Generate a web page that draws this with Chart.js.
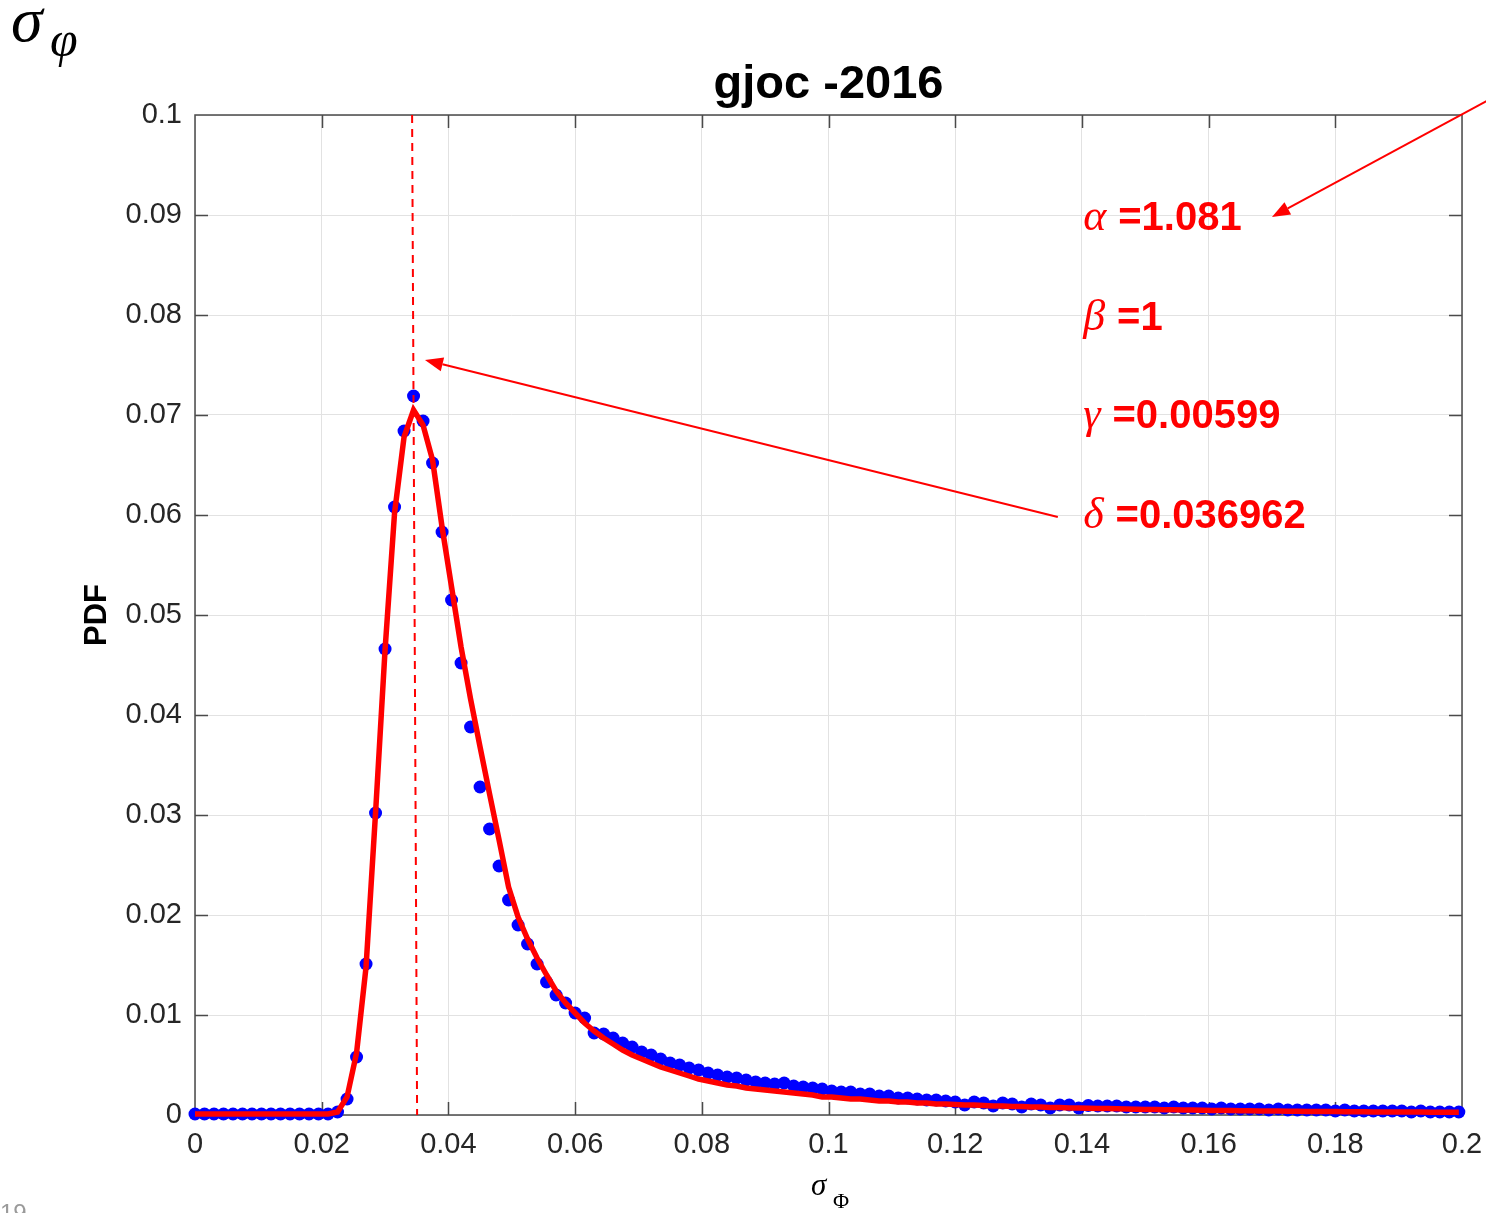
<!DOCTYPE html>
<html>
<head>
<meta charset="utf-8">
<title>gjoc -2016</title>
<script src="https://cdn.jsdelivr.net/npm/chart.js@4.4.1/dist/chart.umd.min.js"></script>
<style>
  html, body { margin: 0; padding: 0; background: #fff; }
  #wrap { position: relative; width: 1486px; height: 1213px; }
</style>
</head>
<body>
<div id="wrap"><canvas id="pdfChart"></canvas></div>
<script>
// sampling grid of sigma_Phi
const sigma = [
  0, 0.0015, 0.003, 0.0045, 0.006, 0.0075, 0.009, 0.0105, 0.012, 0.0135,
  0.015, 0.0165, 0.018, 0.0195, 0.021, 0.0225, 0.024, 0.0255, 0.027, 0.0285,
  0.03, 0.0315, 0.033, 0.0345, 0.036, 0.0375, 0.039, 0.0405, 0.042, 0.0435,
  0.045, 0.0465, 0.048, 0.0495, 0.051, 0.0525, 0.054, 0.0555, 0.057, 0.0585,
  0.06, 0.0615, 0.063, 0.0645, 0.066, 0.0675, 0.069, 0.0705, 0.072, 0.0735,
  0.075, 0.0765, 0.078, 0.0795, 0.081, 0.0825, 0.084, 0.0855, 0.087, 0.0885,
  0.09, 0.0915, 0.093, 0.0945, 0.096, 0.0975, 0.099, 0.1005, 0.102, 0.1035,
  0.105, 0.1065, 0.108, 0.1095, 0.111, 0.1125, 0.114, 0.1155, 0.117, 0.1185,
  0.12, 0.1215, 0.123, 0.1245, 0.126, 0.1275, 0.129, 0.1305, 0.132, 0.1335,
  0.135, 0.1365, 0.138, 0.1395, 0.141, 0.1425, 0.144, 0.1455, 0.147, 0.1485,
  0.15, 0.1515, 0.153, 0.1545, 0.156, 0.1575, 0.159, 0.1605, 0.162, 0.1635,
  0.165, 0.1665, 0.168, 0.1695, 0.171, 0.1725, 0.174, 0.1755, 0.177, 0.1785,
  0.18, 0.1815, 0.183, 0.1845, 0.186, 0.1875, 0.189, 0.1905, 0.192, 0.1935,
  0.195, 0.1965, 0.198, 0.1995
];

// empirical PDF (blue dots)
const pdfEmpirical = [
  0.0001, 0.0001, 0.0001, 0.0001, 0.0001, 0.0001, 0.0001, 0.0001, 0.0001, 0.0001,
  0.0001, 0.0001, 0.0001, 0.0001, 0.0001, 0.0003, 0.0016, 0.0058, 0.0151, 0.0302,
  0.0466, 0.0608, 0.0684, 0.0719, 0.0694, 0.0652, 0.0583, 0.0515, 0.0452, 0.0388,
  0.0328, 0.0286, 0.0249, 0.0215, 0.0190, 0.0171, 0.0151, 0.0133, 0.0120, 0.0112,
  0.0102, 0.0097, 0.0082, 0.0081, 0.0077, 0.0072, 0.0068, 0.0063, 0.0060, 0.0056,
  0.0052, 0.0050, 0.0047, 0.0045, 0.0042, 0.0040, 0.0038, 0.0037, 0.0035, 0.0033,
  0.0032, 0.0031, 0.0032, 0.0029, 0.0028, 0.0027, 0.0026, 0.0024, 0.0023, 0.0023,
  0.0021, 0.0021, 0.0019, 0.0019, 0.0017, 0.0017, 0.0016, 0.0015, 0.0015, 0.0014,
  0.0013, 0.0010, 0.0013, 0.0012, 0.0009, 0.0012, 0.0011, 0.0008, 0.0011, 0.0010,
  0.0007, 0.0010, 0.0010, 0.0007, 0.00095, 0.0009, 0.0009, 0.0009, 0.0008, 0.0008,
  0.0008, 0.0008, 0.0007, 0.0008, 0.0007, 0.0007, 0.0007, 0.0006, 0.0007, 0.0006,
  0.0006, 0.0006, 0.0006, 0.0005, 0.0006, 0.0005, 0.0005, 0.0005, 0.0005, 0.0005,
  0.0004, 0.0005, 0.0004, 0.0004, 0.0004, 0.0004, 0.0004, 0.0004, 0.0003, 0.0004,
  0.0003, 0.0003, 0.0003, 0.0003
];

// fitted stable PDF (red curve)
const pdfFitted = [
  0.0001, 0.0001, 0.0001, 0.0001, 0.0001, 0.0001, 0.0001, 0.0001, 0.0001, 0.0001,
  0.0001, 0.0001, 0.0001, 0.0001, 0.0001, 0.0003, 0.0018, 0.0062, 0.0148, 0.0302,
  0.0465, 0.0602, 0.0678, 0.0705, 0.0690, 0.0655, 0.0588, 0.0528, 0.0468, 0.0416,
  0.0368, 0.0321, 0.0275, 0.0228, 0.0198, 0.0176, 0.0157, 0.0140, 0.0124, 0.0112,
  0.0102, 0.0092, 0.0084, 0.0077, 0.0071, 0.0065, 0.0060, 0.0056, 0.0052, 0.0048,
  0.0045, 0.0042, 0.0039, 0.0036, 0.0034, 0.0032, 0.0030, 0.0029, 0.0027, 0.0026,
  0.0025, 0.0024, 0.0023, 0.0022, 0.0021, 0.0020, 0.0018, 0.0018, 0.0017, 0.0016,
  0.0016, 0.0015, 0.0014, 0.0014, 0.0013, 0.0013, 0.0012, 0.0012, 0.0011, 0.0011,
  0.00105, 0.0010, 0.0010, 0.00095, 0.0009, 0.0009, 0.00085, 0.00085, 0.0008, 0.0008,
  0.00075, 0.00075, 0.0007, 0.0007, 0.00068, 0.00065, 0.00064, 0.00062, 0.0006, 0.00058,
  0.00056, 0.00055, 0.00053, 0.00052, 0.0005, 0.00049, 0.00047, 0.00046, 0.00045, 0.00044,
  0.00043, 0.00042, 0.00041, 0.0004, 0.00039, 0.00038, 0.00037, 0.00036, 0.00036, 0.00035,
  0.00034, 0.00033, 0.00033, 0.00032, 0.00031, 0.00031, 0.0003, 0.0003, 0.00029, 0.00029,
  0.00028, 0.00028, 0.00027, 0.00027
];

// dashed marker at the mode
const modeX = [0.03427, 0.03506];
const modeY = [0.1, 0];

const xTicks = [0, 0.02, 0.04, 0.06, 0.08, 0.1, 0.12, 0.14, 0.16, 0.18, 0.2];
const yTicks = [0, 0.01, 0.02, 0.03, 0.04, 0.05, 0.06, 0.07, 0.08, 0.09, 0.1];

// fitted parameters shown next to the curve
const paramSymbols = ['α', 'β', 'γ', 'δ'];
const paramValues = ['=1.081', '=1', '=0.00599', '=0.036962'];
const paramY = [0.0885, 0.0785, 0.0687, 0.0587];
const paramX = 0.1402;

const toPoints = (xs, ys) => xs.map((v, i) => ({ x: v, y: ys[i] }));
const fmt = v => String(Number(v.toFixed(2)));

const SANS = '"Liberation Sans", Arial, Helvetica, sans-serif';
const SERIF = '"Liberation Serif", "Times New Roman", serif';

function arrow(ctx, x1, y1, x2, y2) {
  const ang = Math.atan2(y2 - y1, x2 - x1);
  const len = 18, half = 7;
  const bx = x2 - len * Math.cos(ang), by = y2 - len * Math.sin(ang);
  ctx.beginPath();
  ctx.moveTo(x1, y1);
  ctx.lineTo(bx, by);
  ctx.stroke();
  ctx.beginPath();
  ctx.moveTo(x2, y2);
  ctx.lineTo(bx + half * Math.sin(ang), by - half * Math.cos(ang));
  ctx.lineTo(bx - half * Math.sin(ang), by + half * Math.cos(ang));
  ctx.closePath();
  ctx.fill();
}

const frame = {
  id: 'frame',
  beforeDatasetsDraw(chart) {
    const { ctx, chartArea: a, scales: { x, y } } = chart;
    ctx.save();
    ctx.strokeStyle = '#4a4a4a';
    ctx.lineWidth = 1.5;
    ctx.strokeRect(a.left, a.top, a.right - a.left, a.bottom - a.top);
    ctx.beginPath();
    xTicks.slice(1, -1).forEach(v => {
      const px = Math.round(x.getPixelForValue(v)) + 0.5;
      ctx.moveTo(px, a.bottom); ctx.lineTo(px, a.bottom - 13);
      ctx.moveTo(px, a.top); ctx.lineTo(px, a.top + 13);
    });
    yTicks.slice(1, -1).forEach(v => {
      const py = Math.round(y.getPixelForValue(v)) + 0.5;
      ctx.moveTo(a.left, py); ctx.lineTo(a.left + 13, py);
      ctx.moveTo(a.right, py); ctx.lineTo(a.right - 13, py);
    });
    ctx.stroke();
    ctx.restore();
  },
  afterDraw(chart) {
    const { ctx, chartArea: a, scales: { x, y } } = chart;
    ctx.save();

    // title
    ctx.fillStyle = '#000';
    ctx.textAlign = 'center';
    ctx.textBaseline = 'alphabetic';
    ctx.font = 'bold 47px ' + SANS;
    ctx.fillText('gjoc -2016', (a.left + a.right) / 2, 98);

    // y axis title
    ctx.save();
    ctx.translate(97, (a.top + a.bottom) / 2);
    ctx.rotate(-Math.PI / 2);
    ctx.textBaseline = 'middle';
    ctx.font = 'bold 31px ' + SANS;
    ctx.fillText('PDF', 0, 0);
    ctx.restore();

    // x axis title
    ctx.textAlign = 'left';
    ctx.font = 'italic 31px ' + SERIF;
    ctx.fillText('σ', 811, 1195);
    ctx.font = '22px ' + SERIF;
    ctx.fillText('Φ', 833, 1208);

    // corner label
    ctx.font = 'italic 64px ' + SERIF;
    ctx.fillText('σ', 11, 41);
    ctx.font = 'italic 50px ' + SERIF;
    ctx.fillText('φ', 50, 56);

    // slide number
    ctx.fillStyle = '#9a9a9a';
    ctx.font = '24px ' + SANS;
    ctx.fillText('19', 0, 1221);

    // parameters
    ctx.fillStyle = '#ff0000';
    const px0 = x.getPixelForValue(paramX);
    paramSymbols.forEach((s, i) => {
      const py = y.getPixelForValue(paramY[i]);
      ctx.font = 'italic 44px ' + SERIF;
      ctx.fillText(s, px0, py);
      const w = ctx.measureText(s).width;
      ctx.font = 'bold 40px ' + SANS;
      ctx.fillText(paramValues[i], px0 + w + 12, py);
    });

    // arrows
    ctx.strokeStyle = '#ff0000';
    ctx.lineWidth = 2;
    arrow(ctx, x.getPixelForValue(0.2045), y.getPixelForValue(0.1016),
               x.getPixelForValue(0.1700), y.getPixelForValue(0.0898));
    arrow(ctx, x.getPixelForValue(0.1362), y.getPixelForValue(0.0598),
               x.getPixelForValue(0.0363), y.getPixelForValue(0.0755));
    ctx.restore();
  }
};

new Chart(document.getElementById('pdfChart'), {
  type: 'scatter',
  data: {
    datasets: [
      {
        label: 'mode',
        data: toPoints(modeX, modeY),
        showLine: true,
        borderColor: '#ff0000',
        borderWidth: 2,
        borderDash: [8, 6],
        pointRadius: 0,
        clip: false,
        order: 0
      },
      {
        label: 'Stable fit',
        data: toPoints(sigma, pdfFitted),
        showLine: true,
        borderColor: '#ff0000',
        borderWidth: 5.5,
        pointRadius: 0,
        tension: 0,
        clip: false,
        order: 1
      },
      {
        label: 'Empirical',
        data: toPoints(sigma, pdfEmpirical),
        showLine: false,
        pointRadius: 6.5,
        pointBorderWidth: 0,
        pointBackgroundColor: '#0000ff',
        pointBorderColor: '#0000ff',
        clip: false,
        order: 2
      }
    ]
  },
  options: {
    responsive: true,
    maintainAspectRatio: false,
    animation: false,
    layout: { padding: { top: 115, right: 24, left: 0, bottom: 0 } },
    plugins: {
      legend: { display: false },
      tooltip: { enabled: false },
      title: { display: false }
    },
    scales: {
      x: {
        type: 'linear',
        min: 0,
        max: 0.2,
        afterBuildTicks: s => { s.ticks = xTicks.map(value => ({ value })); },
        afterFit: s => { s.height = 98; s.paddingLeft = 0; s.paddingRight = 0; },
        grid: { color: '#e2e2e2', lineWidth: 1, drawTicks: false },
        border: { display: false },
        ticks: {
          padding: 13,
          color: '#262626',
          font: { family: SANS, size: 29 },
          maxRotation: 0,
          callback: v => fmt(v)
        }
      },
      y: {
        type: 'linear',
        min: 0,
        max: 0.1,
        afterBuildTicks: s => { s.ticks = yTicks.map(value => ({ value })); },
        afterFit: s => { s.width = 195; s.paddingTop = 0; s.paddingBottom = 0; },
        grid: { color: '#e2e2e2', lineWidth: 1, drawTicks: false },
        border: { display: false },
        ticks: {
          padding: 13,
          color: '#262626',
          font: { family: SANS, size: 29 },
          callback: v => fmt(v)
        }
      }
    }
  },
  plugins: [frame]
});
</script>
</body>
</html>
